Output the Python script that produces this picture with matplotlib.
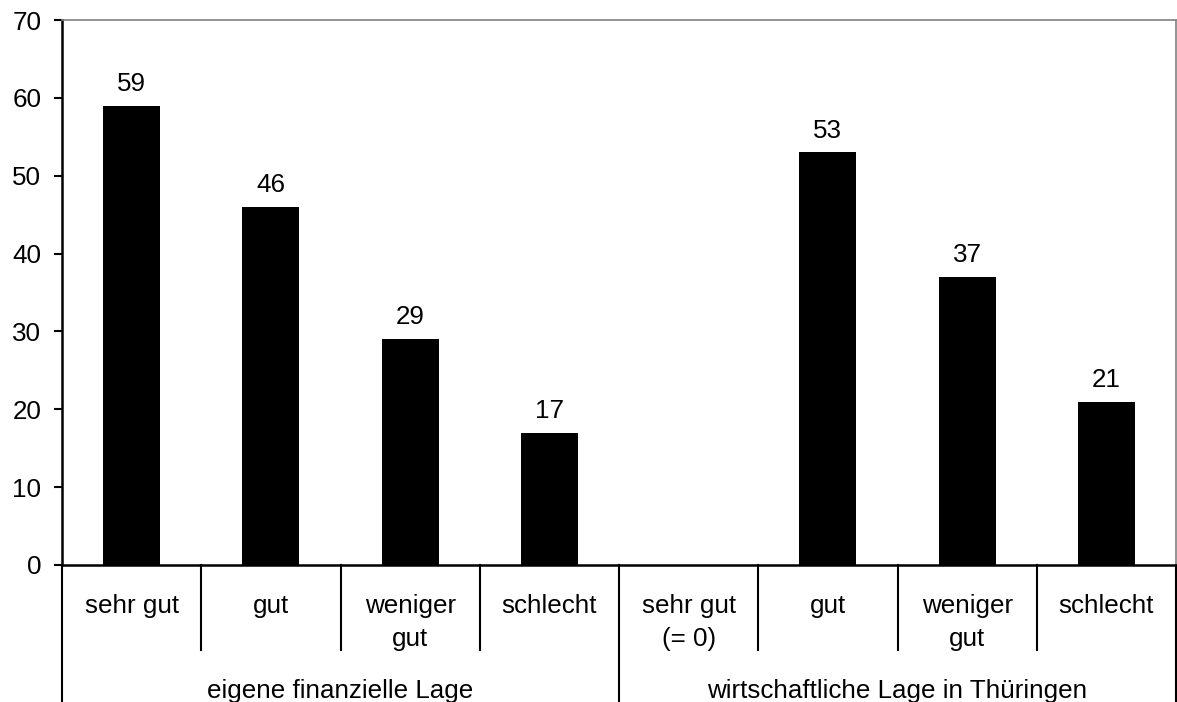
import matplotlib
matplotlib.use("Agg")
import matplotlib.pyplot as plt
import matplotlib.transforms as mtransforms

categories = ["sehr gut", "gut", "weniger\ngut", "schlecht",
              "sehr gut\n(= 0)", "gut", "weniger\ngut", "schlecht"]
values = [59, 46, 29, 17, 0, 53, 37, 21]
groups = ["eigene finanzielle Lage", "wirtschaftliche Lage in Thüringen"]
group_sizes = [4, 4]
yticks = [0, 10, 20, 30, 40, 50, 60, 70]

plt.rcParams['font.family'] = ['Liberation Sans', 'DejaVu Sans']
FS = 18.7

W, H = 1177, 702
fig = plt.figure(figsize=(W / 100, H / 100), dpi=100)
ax = fig.add_axes([62 / W, 1 - 565 / H, (1176 - 62) / W, (565 - 20) / H])

x = list(range(len(values)))
ax.bar(x, values, width=0.41, color="black", zorder=3)
for xi, v in zip(x, values):
    if v > 0:
        ax.annotate(str(v), (xi, v), xytext=(0, 7), textcoords="offset points",
                    ha="center", va="bottom", fontsize=FS)

ax.set_xlim(-0.5, len(values) - 0.5)
ax.set_ylim(0, 70)
ax.set_yticks(yticks)
ax.set_yticklabels([str(t) for t in yticks], fontsize=FS)
ax.tick_params(axis="y", length=6, width=1.5, pad=9, direction="out")
ax.set_xticks([])

for s in ["top", "right"]:
    ax.spines[s].set_color("#808080")
    ax.spines[s].set_linewidth(1.2)
for s in ["left", "bottom"]:
    ax.spines[s].set_color("black")
    ax.spines[s].set_linewidth(1.8)

# category / group axis below
trans = mtransforms.blended_transform_factory(ax.transData, fig.transFigure)
y0 = 1 - 565 / H
y_inner = 1 - 650 / H
y_outer = 0.0

bounds = [i - 0.5 for i in range(len(values) + 1)]
group_edges = [-0.5]
acc = -0.5
for g in group_sizes:
    acc += g
    group_edges.append(acc)

for b in bounds:
    yb = y_outer if b in group_edges else y_inner
    ax.plot([b, b], [y0, yb], color="black", lw=1.5, transform=trans, clip_on=False)

for xi, c in zip(x, categories):
    ax.text(xi, 1 - 594 / H, c, transform=trans, ha="center", va="top",
            fontsize=FS, linespacing=1.45)

for gi, gname in enumerate(groups):
    cx = (group_edges[gi] + group_edges[gi + 1]) / 2
    ax.text(cx, 1 - 691 / H, gname, transform=trans, ha="center", va="center",
            fontsize=FS)

fig.savefig("out.png", dpi=100, facecolor="white")
